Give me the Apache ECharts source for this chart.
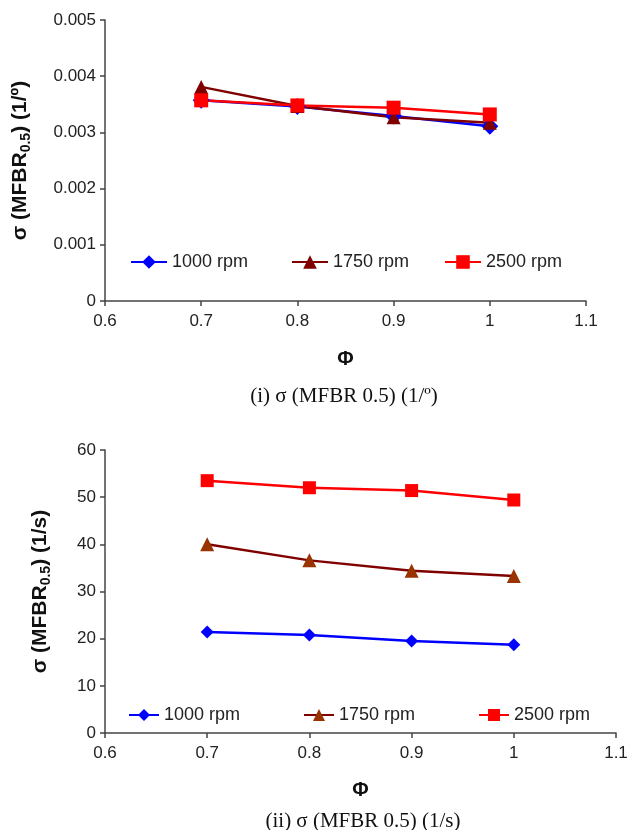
<!DOCTYPE html>
<html>
<head>
<meta charset="utf-8">
<script src="https://cdn.jsdelivr.net/npm/echarts@6/dist/echarts.min.js"></script>
<style>
  html, body { margin: 0; padding: 0; background: #fff; }
  #chart { width: 632px; height: 830px; }
</style>
</head>
<body>
<div id="chart"></div>
<script>
// equivalence ratio values (x axis)
const phi = [0.7, 0.8, 0.9, 1.0];

// (i) sigma in 1/deg
const degRpm1000 = [0.00357, 0.00346, 0.00329, 0.00311];
const degRpm1750 = [0.00381, 0.00347, 0.00327, 0.00317];
const degRpm2500 = [0.00357, 0.00348, 0.00344, 0.00332];

// (ii) sigma in 1/s
const secRpm1000 = [21.4, 20.8, 19.5, 18.7];
const secRpm1750 = [40.0, 36.6, 34.4, 33.3];
const secRpm2500 = [53.5, 52.0, 51.4, 49.4];

const pairs = (ys) => phi.map((x, i) => [x, ys[i]]);

const tickFont = { fontFamily: "Liberation Sans", fontSize: 17, color: "#222" };
const axisLine = { lineStyle: { color: "#444", width: 1.5 } };

function yName(unit) {
    return "{b|σ (MFBR}{s|0.5}{b|) (" + unit + ")}";
}
const yNameStyle = {
    rich: {
        b: { fontFamily: "Liberation Sans", fontSize: 21, fontWeight: "bold", color: "#111" },
        s: { fontFamily: "Liberation Sans", fontSize: 14, fontWeight: "bold", color: "#111", padding: [12, 0, 0, 0] }
    }
};

function xAxisCfg(grid, gap) {
    return {
        type: "value", gridIndex: grid, min: 0.6, max: 1.1, interval: 0.1,
        axisLine: axisLine,
        axisTick: { inside: false, length: 5, lineStyle: { color: "#444", width: 1.5 } },
        axisLabel: Object.assign({ margin: 12, formatter: v => String(+v.toFixed(1)) }, tickFont),
        splitLine: { show: false },
        name: "Φ", nameLocation: "middle", nameGap: gap,
        nameTextStyle: { fontFamily: "Liberation Sans", fontSize: 20, fontWeight: "bold", color: "#111" }
    };
}

function yAxisCfg(grid, max, interval, unit, gap) {
    return {
        type: "value", gridIndex: grid, min: 0, max: max, interval: interval,
        axisLine: Object.assign({ show: true }, axisLine),
        axisTick: { show: true, length: 5, lineStyle: { color: "#444", width: 1.5 } },
        axisLabel: Object.assign({ margin: 9 }, tickFont),
        splitLine: { show: false },
        name: yName(unit), nameLocation: "middle", nameGap: gap,
        nameTextStyle: yNameStyle
    };
}

function lineSeries(name, grid, ys, color, symbol, size, symColor) {
    return {
        name: name, type: "line", xAxisIndex: grid, yAxisIndex: grid,
        data: pairs(ys), symbol: symbol, symbolSize: size,
        lineStyle: { color: color, width: 2.5 },
        itemStyle: { color: symColor || color },
        animation: false
    };
}

function legendItem(name, left, top, w, h) {
    return {
        data: [name], left: left, top: top, itemWidth: w, itemHeight: h, itemGap: 0,
        formatter: n => n.replace(" (ii)", ""),
        textStyle: { fontFamily: "Liberation Sans", fontSize: 18, color: "#222" }
    };
}

const captionStyle = { fontFamily: "Liberation Serif", fontSize: 21, fontWeight: "normal", color: "#111" };

const chart = echarts.init(document.getElementById("chart"));

chart.setOption({
    backgroundColor: "#fff",
    title: [
        { text: "(i) σ (MFBR 0.5) (1/º)", left: 339, top: 381, textAlign: "center", textStyle: captionStyle },
        { text: "(ii) σ (MFBR 0.5) (1/s)", left: 358, top: 806, textAlign: "center", textStyle: captionStyle }
    ],
    grid: [
        { left: 105, right: 46, top: 20, bottom: 529 },
        { left: 105, right: 16, top: 450, bottom: 97 }
    ],
    xAxis: [xAxisCfg(0, 48), xAxisCfg(1, 47)],
    yAxis: [
        yAxisCfg(0, 0.005, 0.001, "1/º", 72),
        yAxisCfg(1, 60, 10, "1/s", 52)
    ],
    legend: [
        legendItem("1000 rpm", 125, 248, 36, 17),
        legendItem("1750 rpm", 286, 248, 36, 17),
        legendItem("2500 rpm", 439, 248, 36, 17),
        legendItem("1000 rpm (ii)", 123, 701, 30, 15),
        legendItem("1750 rpm (ii)", 298, 701, 30, 15),
        legendItem("2500 rpm (ii)", 473, 701, 30, 15)
    ],
    series: [
        lineSeries("1000 rpm", 0, degRpm1000, "#0000FF", "diamond", 17),
        lineSeries("1750 rpm", 0, degRpm1750, "#800000", "triangle", 14),
        lineSeries("2500 rpm", 0, degRpm2500, "#FF0000", "rect", 14),
        lineSeries("1000 rpm (ii)", 1, secRpm1000, "#0000FF", "diamond", 13),
        lineSeries("1750 rpm (ii)", 1, secRpm1750, "#800000", "triangle", 14, "#993300"),
        lineSeries("2500 rpm (ii)", 1, secRpm2500, "#FF0000", "rect", 13)
    ]
});
</script>
</body>
</html>
